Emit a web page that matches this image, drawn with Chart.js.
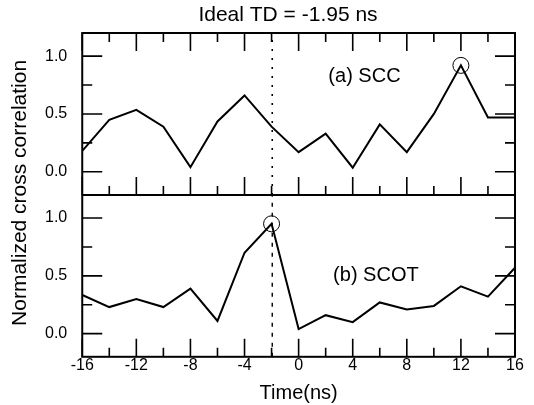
<!DOCTYPE html>
<html>
<head>
<meta charset="utf-8">
<script src="https://cdn.jsdelivr.net/npm/chart.js@4.4.1/dist/chart.umd.min.js"></script>
<style>
  html, body { margin: 0; padding: 0; background: #fff; }
  #wrap { width: 534px; height: 405px; }
</style>
</head>
<body>
<div id="wrap"><canvas id="tdChart"></canvas></div>
<script>
// time lags (ns) and normalized cross correlation values
const timeNs = [-16, -14, -12, -10, -8, -6, -4, -2, 0, 2, 4, 6, 8, 10, 12, 14, 16];
const sccValues = [0.18, 0.45, 0.535, 0.39, 0.04, 0.435, 0.66, 0.39, 0.17, 0.33, 0.035, 0.41, 0.17, 0.5, 0.92, 0.47, 0.47];
const scotValues = [0.335, 0.23, 0.30, 0.23, 0.39, 0.11, 0.70, 0.95, 0.04, 0.16, 0.10, 0.27, 0.21, 0.24, 0.41, 0.32, 0.57];
const idealTD = -1.95;

// tick labels
const xTickValues = [-16, -12, -8, -4, 0, 4, 8, 12, 16];
const xMinorValues = [-14, -10, -6, -2, 2, 6, 10, 14];
const yTickValues = [0, 0.5, 1.0];
const yMinorValues = [0.25, 0.75];

const FONT = '"Liberation Sans", Arial, Helvetica, sans-serif';

function toPoints(values) {
    return timeNs.map((t, i) => ({ x: t, y: values[i] }));
}

function peakPoint(values) {
    let k = 0;
    values.forEach((v, i) => { if (v > values[k]) k = i; });
    return [{ x: timeNs[k], y: values[k] }];
}

// frame, inner ticks and text labels
const framePlugin = {
    id: 'frame',
    afterDatasetsDraw(chart) {
        const { ctx, chartArea: a, scales } = chart;
        const xs = scales.x, ya = scales.yA, yb = scales.yB;
        ctx.save();
        ctx.strokeStyle = '#000';
        ctx.lineWidth = 2;
        ctx.strokeRect(a.left, a.top, a.right - a.left, a.bottom - a.top);
        ctx.beginPath();
        ctx.moveTo(a.left, ya.bottom);
        ctx.lineTo(a.right, ya.bottom);
        ctx.stroke();

        ctx.lineWidth = 1.6;
        ctx.beginPath();
        // y ticks, both sides of both panels
        [ya, yb].forEach(s => {
            yTickValues.forEach(v => {
                const p = s.getPixelForValue(v);
                ctx.moveTo(a.left, p); ctx.lineTo(a.left + 20, p);
                ctx.moveTo(a.right, p); ctx.lineTo(a.right - 20, p);
            });
            yMinorValues.forEach(v => {
                const p = s.getPixelForValue(v);
                ctx.moveTo(a.left, p); ctx.lineTo(a.left + 10, p);
                ctx.moveTo(a.right, p); ctx.lineTo(a.right - 10, p);
            });
        });
        // x ticks
        const edges = [[ya.top, 1], [ya.bottom, -1], [yb.bottom, -1]];
        edges.forEach(([y0, dir]) => {
            xTickValues.forEach(v => {
                const p = xs.getPixelForValue(v);
                ctx.moveTo(p, y0); ctx.lineTo(p, y0 + dir * 18);
            });
            xMinorValues.forEach(v => {
                const p = xs.getPixelForValue(v);
                ctx.moveTo(p, y0); ctx.lineTo(p, y0 + dir * 9);
            });
        });
        ctx.stroke();

        ctx.fillStyle = '#000';
        ctx.textBaseline = 'middle';
        ctx.font = '20px ' + FONT;
        ctx.textAlign = 'left';
        ctx.fillText('(a) SCC', xs.getPixelForValue(2.2), ya.getPixelForValue(0.82));
        ctx.fillText('(b) SCOT', xs.getPixelForValue(2.55), yb.getPixelForValue(0.5));

        ctx.textAlign = 'center';
        ctx.font = '21px ' + FONT;
        ctx.fillText('Ideal TD = -1.95 ns', 288, 15);

        ctx.font = '21px ' + FONT;
        ctx.translate(20, (a.top + a.bottom) / 2 - 2);
        ctx.rotate(-Math.PI / 2);
        ctx.fillText('Normalized cross correlation', 0, 0);
        ctx.restore();
    }
};

function yScale() {
    return {
        type: 'linear',
        position: 'left',
        stack: 'panels',
        stackWeight: 1,
        min: -0.2,
        max: 1.2,
        grid: { display: false, drawTicks: false },
        border: { display: false },
        afterBuildTicks: s => { s.ticks = yTickValues.map(v => ({ value: v })); },
        ticks: {
            color: '#000',
            padding: 15,
            font: { family: FONT, size: 16 },
            callback: v => v.toFixed(1)
        }
    };
}

const ctx = document.getElementById('tdChart').getContext('2d');
const tdChart = new Chart(ctx, {
    type: 'line',
    data: {
        datasets: [
            {
                label: 'SCC',
                data: toPoints(sccValues),
                yAxisID: 'yA',
                borderColor: '#000',
                borderWidth: 2,
                pointRadius: 0,
                tension: 0
            },
            {
                label: 'SCOT',
                data: toPoints(scotValues),
                yAxisID: 'yB',
                borderColor: '#000',
                borderWidth: 2,
                pointRadius: 0,
                tension: 0
            },
            {
                label: 'Ideal TD (a)',
                data: [{ x: idealTD, y: -0.2 }, { x: idealTD, y: 1.2 }],
                yAxisID: 'yA',
                borderColor: '#000',
                borderWidth: 1.6,
                borderDash: [2, 7],
                pointRadius: 0
            },
            {
                label: 'Ideal TD (b)',
                data: [{ x: idealTD, y: -0.2 }, { x: idealTD, y: 1.2 }],
                yAxisID: 'yB',
                borderColor: '#000',
                borderWidth: 1.4,
                borderDash: [4, 6],
                pointRadius: 0
            },
            {
                label: 'SCC peak',
                data: peakPoint(sccValues),
                yAxisID: 'yA',
                showLine: false,
                pointStyle: 'circle',
                pointRadius: 8,
                pointBorderWidth: 1,
                pointBorderColor: '#000',
                pointBackgroundColor: 'rgba(0,0,0,0)'
            },
            {
                label: 'SCOT peak',
                data: peakPoint(scotValues),
                yAxisID: 'yB',
                showLine: false,
                pointStyle: 'circle',
                pointRadius: 8,
                pointBorderWidth: 1,
                pointBorderColor: '#000',
                pointBackgroundColor: 'rgba(0,0,0,0)'
            }
        ]
    },
    options: {
        responsive: true,
        maintainAspectRatio: false,
        animation: false,
        layout: { padding: { left: 30, right: 19, top: 33, bottom: 0 } },
        scales: {
            x: {
                type: 'linear',
                min: -16,
                max: 16,
                grid: { display: false, drawTicks: false },
                border: { display: false },
                afterBuildTicks: s => { s.ticks = xTickValues.map(v => ({ value: v })); },
                ticks: {
                    color: '#000',
                    padding: -1,
                    maxRotation: 0,
                    autoSkip: false,
                    font: { family: FONT, size: 16 }
                },
                title: {
                    display: true,
                    text: 'Time(ns)',
                    color: '#000',
                    padding: { top: 7, bottom: 0 },
                    font: { family: FONT, size: 20 }
                }
            },
            // stacked panels: the one listed first ends up at the bottom
            yB: yScale(),
            yA: yScale()
        },
        plugins: {
            legend: { display: false },
            tooltip: { enabled: false }
        }
    },
    plugins: [framePlugin]
});
</script>
</body>
</html>
